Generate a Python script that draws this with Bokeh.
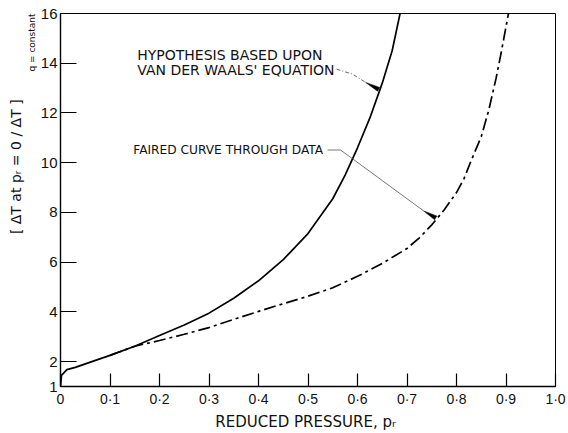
import math
from bokeh.plotting import figure
from bokeh.models import Range1d, FixedTicker, Label, Title
from bokeh.embed import file_html
from bokeh.resources import INLINE

# ---- data ----
hyp_p = [0.0, 0.002, 0.013, 0.03, 0.056, 0.1, 0.15, 0.2, 0.25, 0.3, 0.35, 0.4,
         0.45, 0.5, 0.55, 0.575, 0.6, 0.625, 0.65, 0.67, 0.686]
hyp_ratio = [1.0, 1.45, 1.68, 1.77, 1.95, 2.25, 2.62, 3.05, 3.47, 3.95, 4.55, 5.25,
             6.1, 7.15, 8.55, 9.5, 10.6, 11.8, 13.2, 14.5, 16.0]

faired_p = [0.1, 0.15, 0.2, 0.25, 0.3, 0.35, 0.4, 0.45, 0.5, 0.55, 0.6, 0.65,
            0.7, 0.725, 0.75, 0.775, 0.8, 0.815, 0.83, 0.85, 0.865, 0.88, 0.89, 0.905]
faired_ratio = [2.25, 2.62, 2.85, 3.1, 3.37, 3.7, 4.02, 4.33, 4.63, 4.97, 5.43,
                5.95, 6.55, 6.98, 7.5, 8.1, 8.8, 9.35, 10.1, 11.05, 12.1, 13.4, 14.4, 16.0]

x_ticks = [0, 0.1, 0.2, 0.3, 0.4, 0.5, 0.6, 0.7, 0.8, 0.9, 1.0]
x_tick_labels = ["0", "0·1", "0·2", "0·3", "0·4", "0·5", "0·6", "0·7", "0·8", "0·9", "1·0"]
y_ticks = [1, 2, 4, 6, 8, 10, 12, 14, 16]

FONT = "DejaVu Sans"
NUMFONT = "Liberation Sans"
INK = "#111111"

p = figure(width=568, height=433, output_backend="svg", toolbar_location=None,
           x_range=Range1d(0, 1.0), y_range=Range1d(1, 16),
           min_border_left=60, min_border_right=13, min_border_top=13, min_border_bottom=46)
p.background_fill_color = "white"
p.border_fill_color = "white"
p.outline_line_color = "black"
p.outline_line_width = 1
p.xgrid.visible = False
p.ygrid.visible = False

p.xaxis.ticker = FixedTicker(ticks=x_ticks)
p.xaxis.major_label_overrides = {t: l for t, l in zip(x_ticks, x_tick_labels)}
p.yaxis.ticker = FixedTicker(ticks=y_ticks)
for ax in (p.xaxis, p.yaxis):
    ax.axis_line_color = "black"
    ax.axis_line_width = 1.4
    ax.major_tick_line_color = "black"
    ax.major_tick_line_width = 1.2
    ax.minor_tick_line_color = None
    ax.major_tick_out = 0
    ax.major_label_text_font = NUMFONT
    ax.major_label_text_color = INK
p.xaxis.major_tick_in = 13
p.yaxis.major_tick_in = 16
p.xaxis.major_label_text_font_size = "14px"
p.yaxis.major_label_text_font_size = "15px"
p.xaxis.major_label_standoff = 4
p.yaxis.major_label_standoff = 3

# x-axis label
p.xaxis.axis_label = "REDUCED PRESSURE,  pᵣ"
p.xaxis.axis_label_text_font = FONT
p.xaxis.axis_label_text_font_style = "normal"
p.xaxis.axis_label_text_font_size = "15px"
p.xaxis.axis_label_text_color = INK
p.xaxis.axis_label_standoff = 3

# y-axis label as side titles (subscript nearer the axis)
p.add_layout(Title(text="q = constant", align="right", offset=0, standoff=1,
                   text_font=FONT, text_font_size="9px", text_font_style="normal",
                   text_color=INK), "left")
p.add_layout(Title(text="[ ΔT at pᵣ = 0  /  ΔT ]", align="right", offset=77, standoff=1,
                   text_font=FONT, text_font_size="14px", text_font_style="normal",
                   text_color=INK), "left")

# curves
p.line(hyp_p, hyp_ratio, line_color="black", line_width=1.7)
p.line(faired_p, faired_ratio, line_color="black", line_width=1.7, line_dash="12 4 3 4")

# scale for annotation geometry
SX = 495.0   # px per unit x
SY = 24.93   # px per unit y

def wedge(tail, tip, half_w):
    dx = (tip[0] - tail[0]) * SX
    dy = (tip[1] - tail[1]) * SY
    L = math.hypot(dx, dy)
    px_, py_ = -dy / L, dx / L
    xs = [tail[0], tip[0] + px_ * half_w / SX, tip[0] - px_ * half_w / SX]
    ys = [tail[1], tip[1] + py_ * half_w / SY, tip[1] - py_ * half_w / SY]
    p.patch(xs, ys, fill_color="black", line_color="black", line_width=0.5)

# hypothesis annotation
p.add_layout(Label(x=0.155, y=14.32, text="HYPOTHESIS BASED UPON", text_font=FONT,
                   text_font_size="14px", text_baseline="middle", text_align="left",
                   text_color=INK))
p.add_layout(Label(x=0.155, y=13.72, text="VAN DER WAALS' EQUATION", text_font=FONT,
                   text_font_size="14px", text_baseline="middle", text_align="left",
                   text_color=INK))
p.line([0.5577, 0.590, 0.6164], [13.76, 13.56, 13.23], line_color="#555555",
       line_width=0.9, line_dash="4 2 1 2")
wedge((0.6164, 13.23), (0.6427, 12.95), 2.2)

# faired annotation
p.add_layout(Label(x=0.147, y=10.5, text="FAIRED CURVE THROUGH DATA", text_font=FONT,
                   text_font_size="12.2px", text_baseline="middle", text_align="left",
                   text_color=INK))
p.line([0.5395, 0.5658, 0.7338], [10.51, 10.51, 8.06], line_color="#555555", line_width=0.8)
wedge((0.7338, 8.06), (0.758, 7.78), 2.2)

open("out.html", "w").write(file_html(p, INLINE))
